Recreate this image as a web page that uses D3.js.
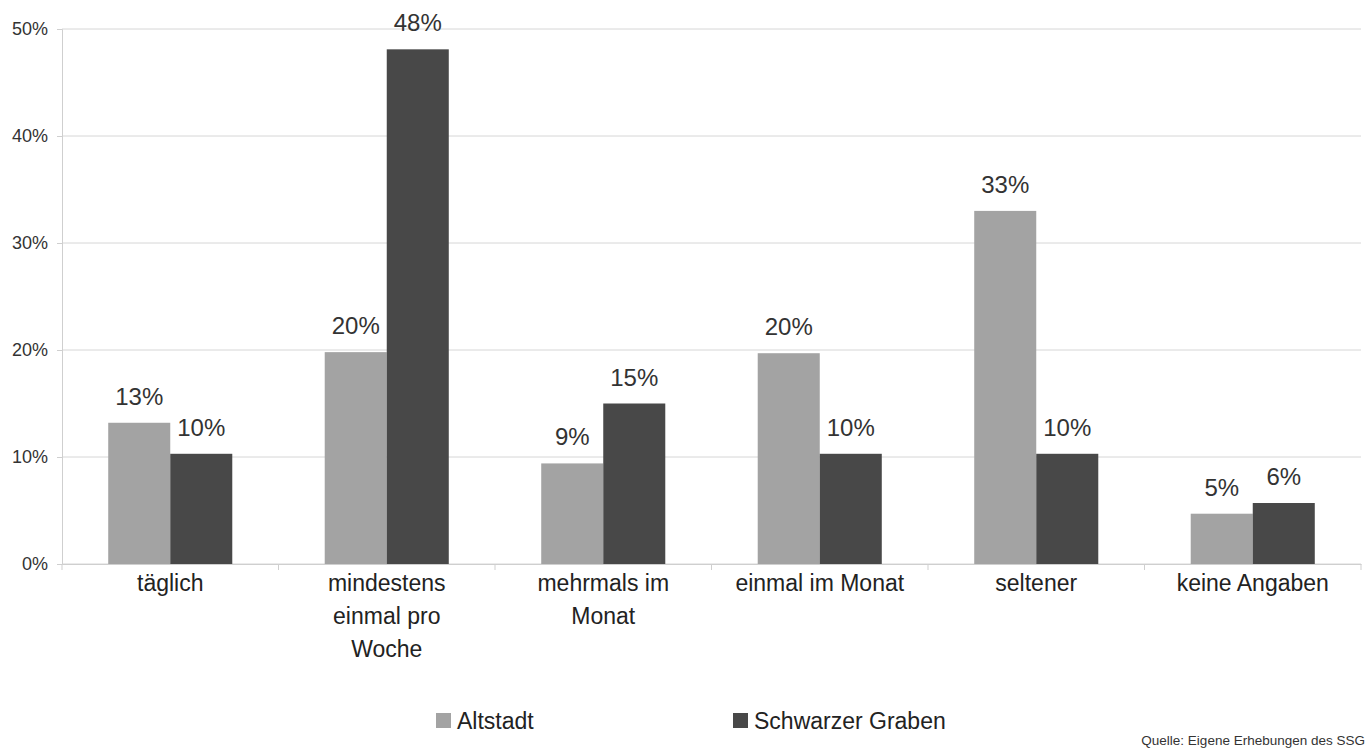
<!DOCTYPE html>
<html><head><meta charset="utf-8">
<script src="https://cdn.jsdelivr.net/npm/d3@7"></script>
<style>body{margin:0;background:#fff;} svg{font-family:"Liberation Sans",Arial,sans-serif;}</style>
</head><body>
<svg id="c" width="1370" height="751"></svg>
<script>
const categories = [["täglich"],["mindestens","einmal pro","Woche"],["mehrmals im","Monat"],["einmal im Monat"],["seltener"],["keine Angaben"]];
const seriesNames = ["Altstadt","Schwarzer Graben"];
const altstadt = [0.132, 0.198, 0.094, 0.197, 0.330, 0.047];
const schwarzer = [0.103, 0.481, 0.150, 0.103, 0.103, 0.057];
const yTicks = [0,0.1,0.2,0.3,0.4,0.5];
const colors = ["#a3a3a3","#484848"];

const svg = d3.select("#c");
const L=62, R=1361, T=29, B=564;
const x = d3.scaleBand().domain(d3.range(categories.length)).range([L,R]).paddingInner(0).paddingOuter(0);
const y = d3.scaleLinear().domain([0,0.5]).range([B,T]);
const groupW = x.bandwidth()*0.573;
const x1 = d3.scaleBand().domain([0,1]).range([0,groupW]);

// gridlines
svg.append("g").selectAll("line").data(yTicks).join("line")
  .attr("x1",L).attr("x2",R).attr("y1",d=>y(d)).attr("y2",d=>y(d))
  .attr("stroke","#d6d6d6").attr("stroke-width",1);

// y axis
const ya = svg.append("g").attr("transform",`translate(${L},0)`)
  .call(d3.axisLeft(y).tickValues(yTicks).tickFormat(d3.format(".0%")).tickSize(5));
ya.select(".domain").attr("stroke","#cfcfcf");
ya.selectAll(".tick line").attr("stroke","#cfcfcf");
ya.selectAll(".tick text").attr("font-size",18).attr("fill","#333").attr("font-family","Liberation Sans, Arial, sans-serif").attr("x",-14);

// x axis
const xa = svg.append("g").attr("transform",`translate(0,${B})`)
  .call(d3.axisBottom(x).tickValues([]).tickSizeOuter(0));
xa.select(".domain").attr("stroke","#cfcfcf");
svg.append("g").selectAll("line").data(d3.range(categories.length+1)).join("line")
  .attr("x1",d=>L+d*x.step()).attr("x2",d=>L+d*x.step()).attr("y1",B).attr("y2",B+6)
  .attr("stroke","#cfcfcf");

const data = categories.map((c,i)=>({i, vals:[altstadt[i],schwarzer[i]]}));
const g = svg.append("g").selectAll("g").data(data).join("g")
  .attr("transform",d=>`translate(${x(d.i)+(x.bandwidth()-groupW)/2},0)`);
g.selectAll("rect").data(d=>d.vals).join("rect")
  .attr("x",(d,j)=>x1(j)).attr("width",x1.bandwidth())
  .attr("y",d=>y(d)).attr("height",d=>B-y(d)).attr("fill",(d,j)=>colors[j]);
g.selectAll("text.v").data(d=>d.vals).join("text").attr("class","v")
  .attr("x",(d,j)=>x1(j)+x1.bandwidth()/2).attr("y",d=>y(d)-18)
  .attr("text-anchor","middle").attr("font-size",24).attr("fill","#333")
  .text(d=>d3.format(".0%")(d));

// category labels
svg.append("g").selectAll("text").data(categories).join("text")
  .attr("x",(d,i)=>x(i)+x.bandwidth()/2).attr("y",B+27)
  .attr("text-anchor","middle").attr("font-size",23).attr("fill","#222")
  .each(function(d){ d3.select(this).selectAll("tspan").data(d).join("tspan")
    .attr("x",d3.select(this).attr("x")).attr("dy",(t,k)=>k==0?0:33).text(t=>t); });

// legend
const leg = [[436,seriesNames[0]],[733,seriesNames[1]]];
leg.forEach(([lx,name],j)=>{
  svg.append("rect").attr("x",lx).attr("y",713).attr("width",15).attr("height",15).attr("fill",colors[j]);
  svg.append("text").attr("x",lx+21).attr("y",729).attr("font-size",23).attr("fill","#222").text(name);
});
svg.append("text").attr("x",1365).attr("y",745).attr("text-anchor","end").attr("font-size",13.5).attr("fill","#333").text("Quelle: Eigene Erhebungen des SSG");
</script>
</body></html>
